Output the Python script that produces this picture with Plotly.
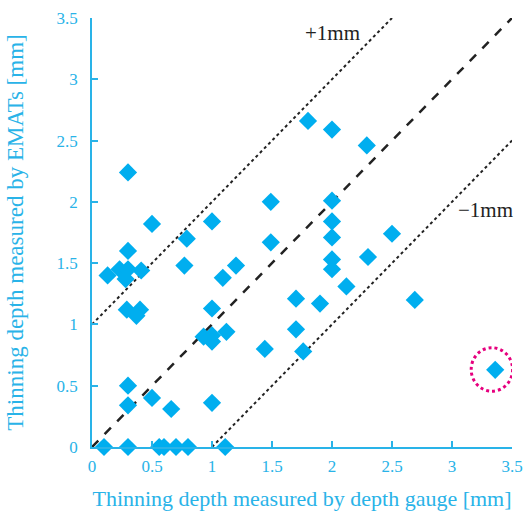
import plotly.graph_objects as go

# Data
gauge_depth = [0.10, 0.30, 0.56, 0.60, 0.70, 0.80, 1.11,
               0.13, 0.23, 0.30, 0.28, 0.41, 0.30, 0.50, 0.30,
               0.29, 0.40, 0.37, 0.30, 0.30, 0.50, 0.66,
               0.77, 0.79, 1.00, 1.00, 0.93, 1.00, 1.00, 1.12, 1.09, 1.20,
               1.49, 1.49, 1.44, 1.80, 2.00, 2.29, 2.00, 2.00, 2.00,
               2.50, 2.00, 2.00, 2.30, 2.12, 1.70, 1.90, 2.69, 1.70, 1.76, 1.00,
               3.36]
emat_depth = [0.00, 0.00, 0.00, 0.00, 0.00, 0.00, 0.00,
              1.40, 1.45, 1.45, 1.37, 1.44, 1.60, 1.82, 2.24,
              1.12, 1.12, 1.07, 0.50, 0.34, 0.40, 0.31,
              1.48, 1.70, 1.84, 1.13, 0.90, 0.91, 0.86, 0.94, 1.38, 1.48,
              2.00, 1.67, 0.80, 2.66, 2.59, 2.46, 2.01, 1.84, 1.71,
              1.74, 1.53, 1.45, 1.55, 1.31, 1.21, 1.17, 1.20, 0.96, 0.78, 0.36,
              0.63]

line_x = [0, 3.5]
ref_y = [0, 3.5]
plus_x = [0, 2.5]
plus_y = [1, 3.5]
minus_x = [1, 3.5]
minus_y = [0, 2.5]

tick_vals = [0, 0.5, 1, 1.5, 2, 2.5, 3, 3.5]
tick_text = ["0", "0.5", "1", "1.5", "2", "2.5", "3", "3.5"]

outlier_x = 3.36
outlier_y = 0.63

AX = "#29b3e8"
MK = "#00aeef"
FONT = "'Liberation Serif', 'Times New Roman', serif"

fig = go.Figure()
fig.add_trace(go.Scatter(x=line_x, y=ref_y, mode="lines",
                         line=dict(color="#222222", width=2.5, dash="dash"),
                         hoverinfo="skip", showlegend=False))
fig.add_trace(go.Scatter(x=plus_x, y=plus_y, mode="lines",
                         line=dict(color="#222222", width=2, dash="dot"),
                         hoverinfo="skip", showlegend=False))
fig.add_trace(go.Scatter(x=minus_x, y=minus_y, mode="lines",
                         line=dict(color="#222222", width=2, dash="dot"),
                         hoverinfo="skip", showlegend=False))
fig.add_trace(go.Scatter(x=gauge_depth, y=emat_depth, mode="markers",
                         marker=dict(symbol="diamond", size=14, color=MK,
                                     line=dict(width=0)),
                         cliponaxis=False, showlegend=False))

fig.add_shape(type="circle", xref="x", yref="y",
              x0=outlier_x - 0.2, x1=outlier_x + 0.145,
              y0=outlier_y - 0.175, y1=outlier_y + 0.18,
              line=dict(color="#e6007e", width=3, dash="dot"))

fig.add_annotation(x=2.0, y=3.38, text="+1mm", showarrow=False,
                   font=dict(family=FONT, size=21, color="#222222"))
fig.add_annotation(x=3.28, y=1.93, text="\u22121mm", showarrow=False,
                   bgcolor="white", borderpad=0,
                   font=dict(family=FONT, size=21, color="#222222"))

axis_common = dict(range=[0, 3.5], tickvals=tick_vals, ticktext=tick_text,
                   showgrid=False, zeroline=False, showline=True,
                   linecolor=AX, linewidth=1.5, ticks="inside", ticklen=6,
                   tickcolor=AX, tickwidth=1.5, automargin=False,
                   tickfont=dict(family=FONT, size=17, color=AX))

fig.update_layout(
    width=524, height=512,
    margin=dict(l=92, r=12, t=18, b=65),
    plot_bgcolor="white", paper_bgcolor="white",
    xaxis=dict(**axis_common, ticklabelstandoff=3,
               title=dict(text="Thinning depth measured by depth gauge [mm]",
                          font=dict(family=FONT, size=22, color=AX), standoff=15)),
    yaxis=dict(**axis_common, ticklabelstandoff=9,
               title=dict(text="Thinning depth measured by EMATs [mm]",
                          font=dict(family=FONT, size=23, color=AX), standoff=27)),
)

fig.write_html("out.html",
               config={"displayModeBar": False},
               post_script="document.body.style.margin='0';"
                           "document.body.style.overflow='hidden';")
